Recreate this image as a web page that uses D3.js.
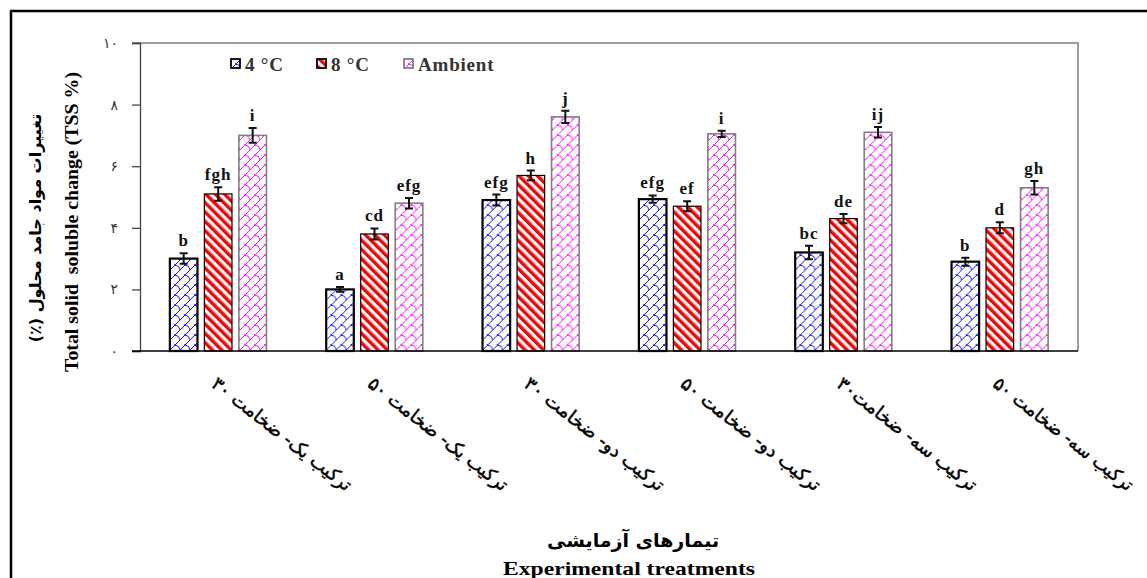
<!DOCTYPE html>
<html>
<head>
<meta charset="utf-8">
<script src="https://cdn.jsdelivr.net/npm/d3@7"></script>
<style>
  html, body { margin: 0; padding: 0; background: #fff; }
  svg { display: block; }
</style>
</head>
<body>
<svg id="chart" width="1147" height="578"></svg>
<script>
// Treatments (x categories)
const categories = [
  "ترکیب یک- ضخامت ۳۰",
  "ترکیب یک- ضخامت ۵۰",
  "ترکیب دو- ضخامت ۳۰",
  "ترکیب دو- ضخامت ۵۰",
  "ترکیب سه- ضخامت۳۰",
  "ترکیب سه- ضخامت ۵۰"
];
const seriesNames = ["4 °C", "8 °C", "Ambient"];

// TSS change (%) per storage temperature
const values4C      = [3.0, 2.0, 4.9, 4.93, 3.2, 2.9];
const values8C      = [5.1, 3.8, 5.7, 4.7, 4.3, 4.0];
const valuesAmbient = [7.0, 4.8, 7.6, 7.05, 7.1, 5.3];

// standard errors
const err4C      = [0.17, 0.08, 0.18, 0.12, 0.22, 0.13];
const err8C      = [0.22, 0.18, 0.16, 0.16, 0.15, 0.18];
const errAmbient = [0.24, 0.17, 0.20, 0.10, 0.17, 0.22];

// Duncan grouping letters
const letters4C      = ["b", "a", "efg", "efg", "bc", "b"];
const letters8C      = ["fgh", "cd", "h", "ef", "de", "d"];
const lettersAmbient = ["i", "efg", "j", "i", "ij", "gh"];

// y-axis ticks, Persian digits
const yTicks = [0, 2, 4, 6, 8, 10];
const yTickLabels = ["۰", "۲", "۴", "۶", "۸", "۱۰"];

const series = [
  { name: seriesNames[0], values: values4C, errs: err4C, letters: letters4C,
    fill: "url(#pat-blue)", stroke: "#000", sw: 2.2 },
  { name: seriesNames[1], values: values8C, errs: err8C, letters: letters8C,
    fill: "url(#pat-red)", stroke: "#000", sw: 1.2 },
  { name: seriesNames[2], values: valuesAmbient, errs: errAmbient, letters: lettersAmbient,
    fill: "url(#pat-pink)", stroke: "#808080", sw: 1.6 }
];

const svg = d3.select("#chart");
const serif = "'Liberation Serif', 'Times New Roman', serif";
const arabic = "'DejaVu Sans', sans-serif";

// ---- fill patterns ----
const defs = svg.append("defs");

// staggered "shingle" texture: diagonal strokes joined by curved links
function shinglePattern(id, color) {
  const p = defs.append("pattern")
    .attr("id", id).attr("patternUnits", "userSpaceOnUse")
    .attr("width", 10).attr("height", 10);
  p.append("rect").attr("width", 10).attr("height", 10).attr("fill", "#fff");
  p.append("path")
    .attr("d", "M0,10 L10,0 M5,5 Q9.5,5.5 10,10")
    .attr("fill", "none").attr("stroke", color).attr("stroke-width", 1);
  p.append("circle").attr("cx", 5).attr("cy", 5).attr("r", 1).attr("fill", color);
}
shinglePattern("pat-blue", "#1a1aff");
shinglePattern("pat-pink", "#ff1aff");

const red = defs.append("pattern")
  .attr("id", "pat-red").attr("patternUnits", "userSpaceOnUse")
  .attr("width", 6.6).attr("height", 6.6)
  .attr("patternTransform", "rotate(-45)");
red.append("rect").attr("width", 6.6).attr("height", 6.6).attr("fill", "#fff");
red.append("rect").attr("width", 3.4).attr("height", 6.6).attr("fill", "#ff0000");

// ---- outer frame ----
svg.append("rect")
  .attr("x", 11).attr("y", 11).attr("width", 1160).attr("height", 600)
  .attr("fill", "none").attr("stroke", "#000").attr("stroke-width", 2.5);

// ---- scales ----
const plot = { left: 140, right: 1078, top: 43, bottom: 351 };

const x0 = d3.scaleBand()
  .domain(categories)
  .range([plot.left, plot.right])
  .padding(0);

const groupStep = x0.bandwidth();
const x1 = d3.scaleBand()
  .domain(seriesNames)
  .range([groupStep / 2 - 51.75, groupStep / 2 + 51.75])
  .paddingInner(0.2)
  .paddingOuter(0.1);

const y = d3.scaleLinear().domain([0, 10]).range([plot.bottom, plot.top]);

// ---- plot frame (top & right in grey) ----
svg.append("path")
  .attr("d", `M${plot.left - 8},${plot.top}H${plot.right}V${plot.bottom}`)
  .attr("fill", "none").attr("stroke", "#808080").attr("stroke-width", 1.5);

// ---- y axis ----
const yAxis = d3.axisLeft(y)
  .tickValues(yTicks)
  .tickSize(8)
  .tickPadding(14)
  .tickFormat((d, i) => yTickLabels[i]);

const gy = svg.append("g")
  .attr("transform", `translate(${plot.left},0)`)
  .call(yAxis);
gy.select(".domain").attr("stroke", "#444").attr("stroke-width", 1.3);
gy.selectAll(".tick line").attr("stroke", "#444").attr("stroke-width", 1.3);
gy.selectAll(".tick text")
  .attr("font-family", arabic).attr("font-size", 14).attr("fill", "#333");

// ---- bars ----
const groups = svg.append("g").selectAll("g")
  .data(categories)
  .join("g")
  .attr("transform", d => `translate(${x0(d)},0)`);

series.forEach(s => {
  const bw = x1.bandwidth();
  const bx = x1(s.name);

  groups.append("rect")
    .attr("x", bx)
    .attr("y", (d, i) => y(s.values[i]))
    .attr("width", bw)
    .attr("height", (d, i) => y(0) - y(s.values[i]))
    .attr("fill", s.fill)
    .attr("stroke", s.stroke)
    .attr("stroke-width", s.sw);

  // error bars
  const cx = bx + bw / 2;
  groups.append("path")
    .attr("d", (d, i) => {
      const hi = y(s.values[i] + s.errs[i]);
      const lo = y(s.values[i] - s.errs[i]);
      return `M${cx - 4},${hi}H${cx + 4}M${cx},${hi}V${lo}M${cx - 4},${lo}H${cx + 4}`;
    })
    .attr("fill", "none").attr("stroke", "#111").attr("stroke-width", 2);

  // significance letters
  groups.append("text")
    .attr("x", cx)
    .attr("y", (d, i) => y(s.values[i] + s.errs[i]) - 7)
    .attr("text-anchor", "middle")
    .attr("font-family", serif).attr("font-weight", "bold")
    .attr("font-size", 17).attr("letter-spacing", 1)
    .attr("fill", "#111")
    .text((d, i) => s.letters[i]);
});

// ---- baseline ----
svg.append("line")
  .attr("x1", plot.left - 8).attr("x2", plot.right)
  .attr("y1", y(0)).attr("y2", y(0))
  .attr("stroke", "#000").attr("stroke-width", 1.5);

// ---- category labels (slanted) ----
svg.append("g").selectAll("text")
  .data(categories)
  .join("text")
  .attr("transform", d => `translate(${x0(d) + groupStep / 2 - 8},${386}) rotate(38)`)
  .attr("text-anchor", "start")
  .attr("font-family", arabic).attr("font-size", 18.5)
  .attr("textLength", 172).attr("lengthAdjust", "spacingAndGlyphs")
  .attr("fill", "#000").attr("stroke", "#000").attr("stroke-width", 0.45)
  .text(d => d);

// ---- legend ----
const legendX = [231, 317, 404];
const legend = svg.append("g").selectAll("g")
  .data(series)
  .join("g")
  .attr("transform", (d, i) => `translate(${legendX[i]},59)`);
legend.append("rect")
  .attr("width", 9).attr("height", 9)
  .attr("fill", d => d.fill).attr("stroke", d => d.stroke).attr("stroke-width", 1.8);
legend.append("text")
  .attr("x", 14).attr("y", 12)
  .attr("font-family", serif).attr("font-weight", "bold")
  .attr("font-size", 19).attr("letter-spacing", 0.8)
  .attr("fill", "#333")
  .text(d => d.name);

// ---- axis titles ----
svg.append("text")
  .attr("transform", "translate(41,228) rotate(-90)")
  .attr("direction", "rtl")
  .attr("text-anchor", "middle")
  .attr("font-family", arabic).attr("font-weight", "bold").attr("font-size", 16)
  .attr("fill", "#000")
  .text("تغییرات مواد جامد محلول (٪)");

svg.append("text")
  .attr("transform", "translate(78,222) rotate(-90)")
  .attr("text-anchor", "middle")
  .attr("font-family", serif).attr("font-weight", "bold").attr("font-size", 19)
  .attr("textLength", 300).attr("lengthAdjust", "spacingAndGlyphs")
  .style("white-space", "pre")
  .attr("fill", "#000")
  .text("Total solid  soluble change (TSS %)");

svg.append("text")
  .attr("x", 633).attr("y", 547)
  .attr("text-anchor", "middle")
  .attr("font-family", arabic).attr("font-weight", "bold").attr("font-size", 19)
  .attr("fill", "#000")
  .text("تیمارهای آزمایشی");

svg.append("text")
  .attr("x", 629).attr("y", 575)
  .attr("text-anchor", "middle")
  .attr("font-family", serif).attr("font-weight", "bold").attr("font-size", 19)
  .attr("textLength", 252).attr("lengthAdjust", "spacingAndGlyphs")
  .attr("fill", "#000")
  .text("Experimental treatments");
</script>
</body>
</html>
